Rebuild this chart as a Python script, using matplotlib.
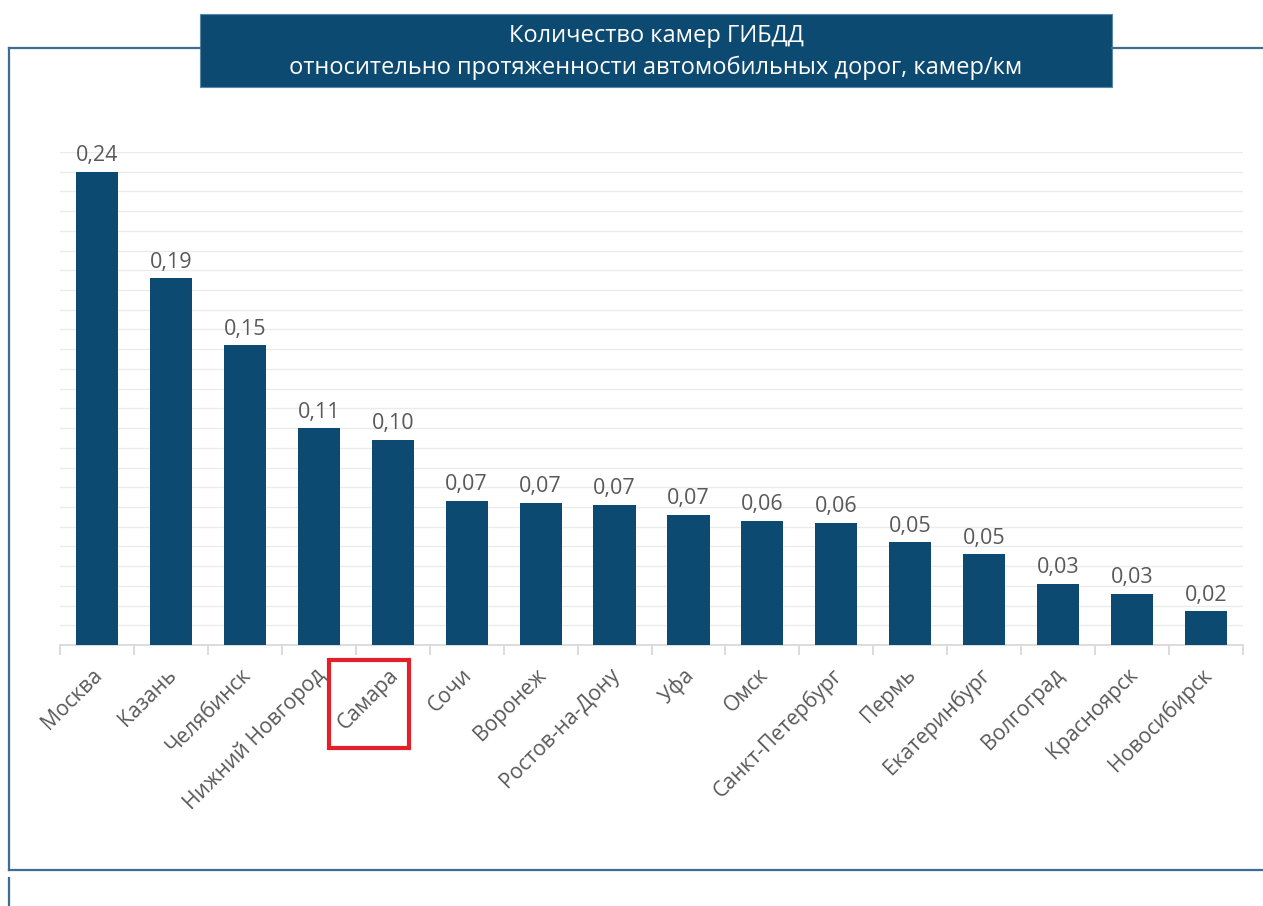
import numpy as np
import matplotlib.pyplot as plt
from matplotlib.lines import Line2D
from matplotlib.patches import Rectangle
from matplotlib.transforms import ScaledTranslation

plt.rcParams['font.family'] = ['Open Sans', 'DejaVu Sans']

cities = ["Москва", "Казань", "Челябинск", "Нижний Новгород", "Самара", "Сочи",
          "Воронеж", "Ростов-на-Дону", "Уфа", "Омск", "Санкт-Петербург", "Пермь",
          "Екатеринбург", "Волгоград", "Красноярск", "Новосибирск"]
cameras_per_km = [0.240, 0.186, 0.152, 0.110, 0.104, 0.073, 0.072, 0.071,
                  0.066, 0.063, 0.062, 0.052, 0.046, 0.031, 0.026, 0.017]
highlight = "Самара"

W, H = 1263, 906
bar_color = "#0d4a72"
frame_color = "#3d6d93"
text_gray = "#595959"

fig = plt.figure(figsize=(W / 100, H / 100), dpi=100)

def fx(px):
    return px / W

def fy(py):
    return 1 - py / H

# outer frame lines
frame = [((9, 48), (200, 48)), ((1112, 48), (1263, 48)),
         ((9, 48), (9, 870)), ((9, 870), (1263, 870)), ((9, 878), (9, 906))]
for (x0, y0), (x1, y1) in frame:
    fig.add_artist(Line2D([fx(x0), fx(x1)], [fy(y0), fy(y1)], color=frame_color, lw=1.6))

# title box
fig.add_artist(Rectangle((fx(200), fy(87)), fx(1112) - fx(200), fy(14) - fy(87),
                         facecolor=bar_color, edgecolor="#5a86a8", lw=0.8))
fig.text(fx(656), fy(36), "Количество камер ГИБДД", color="white", fontsize=17,
         ha="center", va="center")
fig.text(fx(656), fy(68), "относительно протяженности автомобильных дорог, камер/км",
         color="white", fontsize=17, ha="center", va="center")

ax = fig.add_axes([fx(60), fy(645), fx(1243) - fx(60), fy(152) - fy(645)])
x = np.arange(len(cities))
bars = ax.bar(x, cameras_per_km, width=0.57, color=bar_color, zorder=3)

ax.set_xlim(-0.5, len(cities) - 0.5)
ax.set_ylim(0, 0.25)
ax.set_yticks(np.arange(0.01, 0.251, 0.01))
ax.yaxis.grid(True, color="#ebebeb", lw=1, zorder=0)
ax.tick_params(axis="y", length=0, labelleft=False)
for s in ["top", "right", "left"]:
    ax.spines[s].set_visible(False)
ax.spines["bottom"].set_color("#d9d9d9")
ax.spines["bottom"].set_linewidth(1.3)

ax.set_xticks(x)
ax.set_xticklabels(cities, rotation=45, ha="right", rotation_mode="anchor",
                   color=text_gray, fontsize=15.2)
ax.tick_params(axis="x", which="major", length=0, pad=14)
shift = ScaledTranslation(-5 / 100, 0, fig.dpi_scale_trans)
for lbl in ax.get_xticklabels():
    lbl.set_transform(lbl.get_transform() + shift)
ax.set_xticks(np.arange(-0.5, len(cities), 1), minor=True)
ax.tick_params(axis="x", which="minor", length=7, color="#d9d9d9", width=1.3)

for b, v in zip(bars, cameras_per_km):
    ax.annotate(f"{v:.2f}".replace(".", ","), (b.get_x() + b.get_width() / 2, v),
                xytext=(0, 4), textcoords="offset points", ha="center", va="bottom",
                color=text_gray, fontsize=15.5)

# red box around highlighted label
fig.add_artist(Rectangle((fx(329), fy(748)), fx(409) - fx(329), fy(660) - fy(748),
                         facecolor="none", edgecolor="#e3202a", lw=3))

fig.savefig("out.png", dpi=100, facecolor="white")
